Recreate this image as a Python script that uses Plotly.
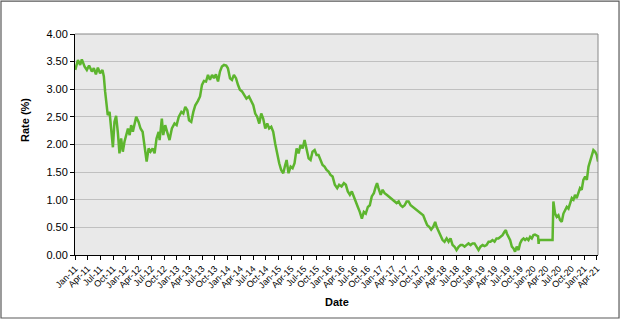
import plotly.graph_objects as go

dates = [
    "2011-01-03", "2011-01-22", "2011-02-07", "2011-02-19", "2011-03-11", "2011-03-27",
    "2011-04-12", "2011-05-02", "2011-05-16", "2011-05-31", "2011-06-14", "2011-06-30",
    "2011-07-17", "2011-07-27", "2011-08-05", "2011-08-15", "2011-08-24", "2011-09-06",
    "2011-09-17", "2011-09-27", "2011-09-30", "2011-10-11", "2011-10-23", "2011-11-04",
    "2011-11-16", "2011-11-28", "2011-12-10", "2011-12-22",
    "2012-01-03", "2012-01-16", "2012-01-28", "2012-02-08", "2012-02-20", "2012-03-03",
    "2012-03-15", "2012-04-01", "2012-04-15", "2012-04-30", "2012-05-14", "2012-05-29",
    "2012-06-12", "2012-06-26", "2012-07-11", "2012-07-25", "2012-08-08", "2012-08-23",
    "2012-08-30", "2012-09-15", "2012-09-25", "2012-10-09", "2012-10-23", "2012-11-09",
    "2012-11-26", "2012-12-15", "2012-12-30",
    "2013-01-14", "2013-02-02", "2013-02-16", "2013-03-02", "2013-03-17", "2013-03-29",
    "2013-04-14", "2013-04-29", "2013-05-13", "2013-06-01", "2013-06-16", "2013-06-30",
    "2013-07-14", "2013-07-29", "2013-08-12", "2013-08-26", "2013-09-10", "2013-09-24",
    "2013-10-08", "2013-10-23", "2013-11-06", "2013-11-20", "2013-12-05", "2013-12-21",
    "2014-01-02", "2014-01-17", "2014-01-31", "2014-02-14", "2014-03-01", "2014-03-15",
    "2014-03-29", "2014-04-13", "2014-04-27", "2014-05-15", "2014-06-02", "2014-06-18",
    "2014-07-03", "2014-07-17", "2014-07-31", "2014-08-15", "2014-08-29", "2014-09-12",
    "2014-09-27", "2014-10-11", "2014-10-25", "2014-11-09", "2014-11-23", "2014-12-07",
    "2014-12-22",
    "2015-01-05", "2015-01-19", "2015-02-03", "2015-02-17", "2015-02-27", "2015-03-13",
    "2015-03-28", "2015-04-11", "2015-04-25", "2015-05-10", "2015-05-24", "2015-06-07",
    "2015-06-22", "2015-07-06", "2015-07-20", "2015-08-04", "2015-08-18", "2015-09-01",
    "2015-09-16", "2015-09-30", "2015-10-14", "2015-10-29", "2015-11-12", "2015-11-26",
    "2015-12-11", "2015-12-25",
    "2016-01-08", "2016-01-23", "2016-02-08", "2016-02-25", "2016-03-10", "2016-03-27",
    "2016-04-13", "2016-04-27", "2016-05-11", "2016-05-26", "2016-06-09", "2016-06-23",
    "2016-07-08", "2016-07-22", "2016-08-05", "2016-08-20", "2016-09-03", "2016-09-17",
    "2016-10-02", "2016-10-16", "2016-10-30", "2016-11-14", "2016-11-28", "2016-12-07",
    "2016-12-17",
    "2017-01-02", "2017-01-16", "2017-01-30", "2017-02-14", "2017-02-28", "2017-03-14",
    "2017-03-29", "2017-04-12", "2017-04-26", "2017-05-11", "2017-05-25", "2017-06-08",
    "2017-06-23", "2017-07-07", "2017-07-21", "2017-08-05", "2017-08-19", "2017-09-02",
    "2017-09-17", "2017-10-01", "2017-10-18", "2017-11-03", "2017-11-17", "2017-12-02",
    "2017-12-16", "2017-12-30",
    "2018-01-14", "2018-01-28", "2018-02-07", "2018-02-21", "2018-03-08", "2018-03-22",
    "2018-04-05", "2018-04-20", "2018-05-04", "2018-05-18", "2018-06-02", "2018-06-16",
    "2018-06-30", "2018-07-15", "2018-07-29", "2018-08-12", "2018-08-27", "2018-09-10",
    "2018-09-24", "2018-10-09", "2018-10-23", "2018-11-06", "2018-11-21", "2018-12-05",
    "2018-12-19",
    "2019-01-03", "2019-01-17", "2019-01-31", "2019-02-15", "2019-03-01", "2019-03-15",
    "2019-03-30", "2019-04-13", "2019-04-27", "2019-05-12", "2019-05-26", "2019-06-09",
    "2019-06-19", "2019-06-26", "2019-07-08", "2019-07-20", "2019-08-01", "2019-08-13",
    "2019-08-24", "2019-09-05", "2019-09-18", "2019-09-29", "2019-10-11", "2019-10-24",
    "2019-11-04", "2019-11-16", "2019-11-28", "2019-12-10", "2019-12-22",
    "2020-01-03", "2020-01-14", "2020-01-27", "2020-02-05", "2020-02-09", "2020-02-12",
    "2020-05-19", "2020-05-21", "2020-05-25", "2020-06-06", "2020-06-18", "2020-06-30",
    "2020-07-12", "2020-07-24", "2020-08-05", "2020-08-17", "2020-08-29", "2020-09-10",
    "2020-09-21", "2020-10-04", "2020-10-16", "2020-10-27", "2020-11-08", "2020-11-20",
    "2020-12-02", "2020-12-14", "2020-12-26",
    "2021-01-08", "2021-01-20", "2021-02-01", "2021-02-12", "2021-02-24", "2021-03-08",
    "2021-03-20", "2021-04-01", "2021-04-10",
]

rates = [
    3.35, 3.53, 3.44, 3.54, 3.41, 3.35,
    3.43, 3.32, 3.38, 3.27, 3.39, 3.29,
    3.35, 3.23, 2.96, 2.71, 2.53, 2.59,
    2.35, 2.11, 1.95, 2.41, 2.52, 2.23,
    1.84, 2.11, 1.87, 2.05,
    2.17, 2.29, 2.17, 2.35, 2.23, 2.38,
    2.50, 2.41, 2.29, 2.23, 1.93, 1.69,
    1.93, 1.87, 1.93, 1.84, 2.11, 2.23,
    2.08, 2.47, 2.17, 2.35, 2.23, 2.08,
    2.29, 2.38, 2.35,
    2.50, 2.59, 2.56, 2.68, 2.62, 2.44,
    2.41, 2.59, 2.71, 2.79, 2.87, 3.08,
    3.15, 3.14, 3.26, 3.17, 3.26, 3.20,
    3.27, 3.14, 3.32, 3.41, 3.44, 3.43,
    3.38, 3.20, 3.17, 3.26, 3.20, 3.08,
    2.99, 2.96, 2.91, 2.83, 2.87, 2.78,
    2.71, 2.56, 2.50, 2.38, 2.56, 2.47,
    2.29, 2.38, 2.29, 2.32, 2.23, 2.02,
    1.81,
    1.66, 1.54, 1.48, 1.63, 1.72, 1.48,
    1.60, 1.57, 1.66, 1.93, 1.84, 1.99,
    1.93, 2.08, 1.90, 1.75, 1.72, 1.87,
    1.90, 1.81, 1.81, 1.72, 1.63, 1.60,
    1.54, 1.51,
    1.45, 1.42, 1.27, 1.21, 1.27, 1.24,
    1.30, 1.27, 1.15, 1.09, 1.15, 1.06,
    0.94, 0.87, 0.78, 0.66, 0.78, 0.75,
    0.87, 0.90, 1.06, 1.12, 1.24, 1.30,
    1.21,
    1.09, 1.18, 1.12, 1.09, 1.06, 1.03,
    1.00, 0.97, 0.94, 0.97, 0.90, 0.87,
    0.90, 0.97, 0.97, 0.90, 0.87, 0.84,
    0.81, 0.78, 0.75, 0.72, 0.63, 0.54,
    0.51, 0.46,
    0.51, 0.60, 0.51, 0.42, 0.36, 0.27,
    0.24, 0.30, 0.24, 0.30, 0.18, 0.15,
    0.09, 0.15, 0.18, 0.18, 0.15, 0.18,
    0.21, 0.18, 0.21, 0.21, 0.15, 0.09,
    0.15,
    0.18, 0.16, 0.18, 0.24, 0.24, 0.27,
    0.24, 0.30, 0.30, 0.33, 0.36, 0.42,
    0.45, 0.39, 0.33, 0.27, 0.15, 0.12,
    0.06, 0.15, 0.09, 0.21, 0.27, 0.30,
    0.27, 0.30, 0.27, 0.33, 0.30,
    0.36, 0.37, 0.36, 0.34, 0.20, 0.27,
    0.27, 0.80, 0.97, 0.75, 0.69, 0.72,
    0.63, 0.60, 0.75, 0.81, 0.87, 0.84,
    0.94, 1.03, 1.00, 1.09, 1.03, 1.12,
    1.21, 1.18, 1.36,
    1.42, 1.36, 1.60, 1.69, 1.78, 1.90,
    1.87, 1.81, 1.69,
]

x_title = "Date"
y_title = "Rate (%)"
x_range = ["2011-01-01", "2021-04-10"]
y_range = [0, 4]

FONT = "Liberation Sans, Arial, sans-serif"

fig = go.Figure()
fig.add_trace(go.Scatter(
    x=dates, y=rates, mode="lines",
    line=dict(color="#5DB52E", width=2.5),
    hoverinfo="skip",
))

fig.update_layout(
    width=623, height=320,
    margin=dict(l=75, r=25, t=34, b=65),
    paper_bgcolor="white",
    plot_bgcolor="#E9E9E9",
    showlegend=False,
    font=dict(family=FONT, color="black"),
)

fig.update_xaxes(
    type="date", range=x_range,
    tickmode="linear", tick0="2011-01-01", dtick="M3",
    tickformat="%b-%y", tickangle=-45,
    tickfont=dict(size=9, family=FONT, color="black"),
    ticks="outside", ticklen=4, tickcolor="black", tickwidth=1,
    showline=True, linecolor="black", linewidth=1,
    showgrid=False, zeroline=False,
)
fig.update_yaxes(
    range=y_range, dtick=0.5, tick0=0, tickformat=".2f",
    tickfont=dict(size=11, family=FONT, color="black"),
    ticks="outside", ticklen=4, tickcolor="black", tickwidth=1,
    showline=True, linecolor="black", linewidth=1,
    showgrid=True, gridcolor="#C0C0C0", gridwidth=1,
    zeroline=False,
)

# plot-area frame (top/right grey)
fig.add_shape(type="line", xref="paper", yref="paper", x0=0, x1=1, y0=1, y1=1,
              line=dict(color="#888888", width=1))
fig.add_shape(type="line", xref="paper", yref="paper", x0=1, x1=1, y0=0, y1=1,
              line=dict(color="#888888", width=1))
# outer chart border
fig.add_shape(type="rect", xref="paper", yref="paper",
              x0=-0.1415, x1=1.0402, y0=-0.285, y1=1.149,
              line=dict(color="#5A5A5A", width=1.2), layer="below")

fig.add_annotation(text="<b>" + x_title + "</b>", xref="paper", yref="paper",
                   x=0.501, y=-0.2127, showarrow=False,
                   font=dict(size=11, family=FONT, color="black"),
                   xanchor="center", yanchor="middle")
fig.add_annotation(text="<b>" + y_title + "</b>", xref="paper", yref="paper",
                   x=(25 - 75) / 523, y=(255 - 120) / 221, showarrow=False,
                   textangle=-90,
                   font=dict(size=11, family=FONT, color="black"),
                   xanchor="center", yanchor="middle")

fig.write_html("out.html",
               config={"displayModeBar": False},
               post_script="document.body.style.margin='0';document.body.style.padding='0';")
